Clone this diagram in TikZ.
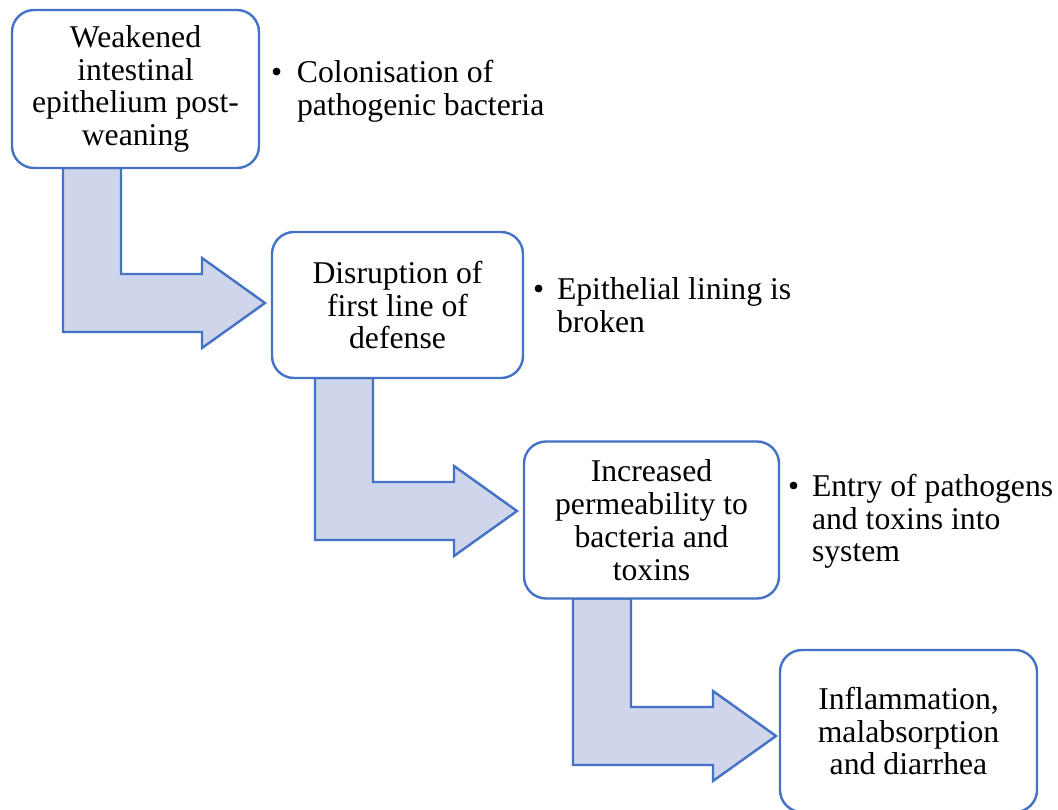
\documentclass[tikz,border=0pt]{standalone}
\usepackage{fontspec}
\setmainfont{Liberation Serif}
\usetikzlibrary{calc,backgrounds}
\definecolor{bordblue}{HTML}{4472C4}
\definecolor{arrfill}{HTML}{CFD5EA}
\tikzset{
  stepbox/.style={draw=bordblue, line width=2.4pt, fill=white, rounded corners=22pt,
    align=center, inner sep=0pt, outer sep=0pt, font=\fontsize{31.7}{32.8}\selectfont},
  arr/.style={draw=bordblue, line width=2.4pt, fill=arrfill, line join=miter},
  note/.style={anchor=north west, align=left, inner sep=0pt, outer sep=0pt,
    font=\fontsize{31.7}{32.8}\selectfont}
}
% #1 = shaft top-left coordinate, #2 = tip coordinate
\newcommand{\bentarrow}[2]{%
  \draw[arr] (#1) -- ($(#1|-#2)+(0,29)$) -- ($(#2)+(-63,29)$) -- ($(#2)+(-63,45)$)
    -- (#2) -- ($(#2)+(-63,-45)$) -- ($(#2)+(-63,-29)$) -- ($(#1|-#2)+(58,-29)$)
    -- ($(#1)+(58,0)$) -- cycle;}
\begin{document}
\begin{tikzpicture}[x=1pt,y=-1pt]
\useasboundingbox (0,0) rectangle (1058,810);
\node[stepbox, minimum width=247pt, minimum height=158pt] (b1) at (135.5,89)
  {Weakened\\intestinal\\epithelium post-\\weaning};
\node[stepbox, minimum width=251pt, minimum height=146pt] (b2) at (397.5,305)
  {Disruption of\\first line of\\defense};
\node[stepbox, minimum width=255pt, minimum height=157pt] (b3) at (651.5,520)
  {Increased\\permeability to\\bacteria and\\toxins};
\node[stepbox, minimum width=257pt, minimum height=162pt] (b4) at (908.5,731)
  {Inflammation,\\malabsorption\\and diarrhea};

\node[note] (n1) at (271,60)
  {\makebox[26pt][l]{\textbullet}Colonisation of\\\hspace*{26pt}pathogenic bacteria};
\node[note] (n2) at (533,278)
  {\makebox[24pt][l]{\textbullet}Epithelial lining is\\\hspace*{24pt}broken};
\node[note] (n3) at (788,474)
  {\makebox[24pt][l]{\textbullet}Entry of pathogens\\\hspace*{24pt}and toxins into\\\hspace*{24pt}system};

\coordinate (s1) at ($(b1.south west)+(51,0)$);
\coordinate (t1) at ($(b2.west)+(-7,-2)$);
\coordinate (s2) at ($(b2.south west)+(43,0)$);
\coordinate (t2) at ($(b3.west)+(-7,-9)$);
\coordinate (s3) at ($(b3.south west)+(49,0)$);
\coordinate (t3) at ($(b4.west)+(-4,5)$);
\begin{scope}[on background layer]
  \bentarrow{s1}{t1}
  \bentarrow{s2}{t2}
  \bentarrow{s3}{t3}
\end{scope}
\end{tikzpicture}
\end{document}
